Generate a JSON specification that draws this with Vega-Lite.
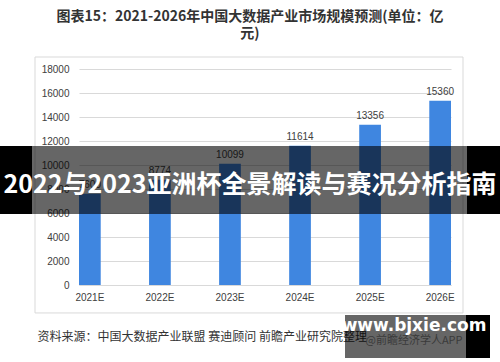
{
  "$schema": "https://vega.github.io/schema/vega-lite/v6.json",
  "width": 372,
  "height": 216,
  "autosize": "none",
  "padding": {"left": 79, "top": 69, "right": 49, "bottom": 77},
  "background": "white",
  "config": {
    "view": {"stroke": null},
    "font": "Noto Sans CJK SC",
    "axisY": {
      "title": null,
      "tickCount": 9,
      "format": "d",
      "labelOverlap": false,
      "labelFont": "Liberation Sans",
      "labelFontSize": 10,
      "labelColor": "#404040",
      "labelPadding": 10,
      "ticks": false,
      "domain": false,
      "gridColor": "#d9d9d9",
      "gridWidth": 1
    },
    "axisX": {
      "titleFont": "Noto Sans CJK SC",
      "titleFontSize": 12,
      "titleFontWeight": "normal",
      "titleColor": "#333333",
      "titleAnchor": "start",
      "titleAlign": "left",
      "titleX": -42,
      "titleY": 46,
      "labelAngle": 0,
      "labelFont": "Liberation Sans",
      "labelFontSize": 10,
      "labelColor": "#404040",
      "labelPadding": 7,
      "ticks": false,
      "domainColor": "#d9d9d9"
    }
  },
  "title": {
    "text": ["图表15：2021-2026年中国大数据产业市场规模预测(单位：亿", "元)"],
    "fontSize": 14,
    "fontWeight": "bold",
    "color": "#333333",
    "font": "Noto Sans CJK SC",
    "lineHeight": 17,
    "offset": 16,
    "dx": -15
  },
  "data": {
    "values": [
      {"year": "2021E", "value": 7600},
      {"year": "2022E", "value": 8774},
      {"year": "2023E", "value": 10099},
      {"year": "2024E", "value": 11614},
      {"year": "2025E", "value": 13356},
      {"year": "2026E", "value": 15360}
    ]
  },
  "layer": [
    {
      "mark": {"type": "bar", "color": "#3f86e0"},
      "encoding": {
        "x": {
          "field": "year",
          "type": "nominal",
          "sort": null,
          "title": "资料来源：中国大数据产业联盟 赛迪顾问 前瞻产业研究院整理",
          "scale": {"paddingInner": 0.69, "paddingOuter": 0}
        },
        "y": {
          "field": "value",
          "type": "quantitative",
          "title": null,
          "scale": {"domain": [0, 18000], "nice": false}
        }
      }
    },
    {
      "mark": {"type": "text", "dy": -9, "font": "Liberation Sans", "fontSize": 10, "color": "#404040"},
      "encoding": {
        "x": {"field": "year", "type": "nominal", "sort": null},
        "y": {"field": "value", "type": "quantitative"},
        "text": {"field": "value", "type": "quantitative"}
      }
    },
    {
      "data": {"values": [{}]},
      "mark": {"type": "rect", "fill": null, "stroke": "#d9d9d9", "strokeWidth": 1, "clip": false},
      "encoding": {
        "x": {"value": -44},
        "x2": {"value": 384},
        "y": {"datum": 19000},
        "y2": {"datum": -2330}
      }
    },
    {
      "data": {"values": [{}]},
      "mark": {"type": "rect", "color": "#000000", "opacity": 0.6, "clip": false},
      "encoding": {
        "x": {"value": -47},
        "x2": {"value": 388},
        "y": {"datum": 11583},
        "y2": {"datum": 5917}
      }
    },
    {
      "data": {"values": [{}]},
      "mark": {"type": "rect", "color": "#000000", "clip": false},
      "encoding": {
        "x": {"value": -79},
        "x2": {"value": -47},
        "y": {"datum": 11583},
        "y2": {"datum": 5917}
      }
    },
    {
      "data": {"values": [{}]},
      "mark": {"type": "rect", "color": "#000000", "clip": false},
      "encoding": {
        "x": {"value": 388},
        "x2": {"value": 421},
        "y": {"datum": 11583},
        "y2": {"datum": 5917}
      }
    },
    {
      "data": {"values": [{"t": "2022与2023亚洲杯全景解读与赛况分析指南"}]},
      "mark": {"type": "text", "font": "Noto Sans CJK SC", "fontWeight": "bold", "fontSize": 25, "color": "white", "align": "center", "baseline": "middle"},
      "encoding": {
        "x": {"value": 171},
        "y": {"datum": 8300},
        "text": {"field": "t"}
      }
    },
    {
      "data": {"values": [{}]},
      "mark": {"type": "rect", "color": "#000000", "opacity": 0.6, "clip": false},
      "encoding": {
        "x": {"value": 266},
        "x2": {"value": 387},
        "y": {"datum": -2500},
        "y2": {"datum": -6080}
      }
    },
    {
      "data": {"values": [{}]},
      "mark": {"type": "rect", "color": "#000000", "clip": false},
      "encoding": {
        "x": {"value": 387},
        "x2": {"value": 411},
        "y": {"datum": -2500},
        "y2": {"datum": -6080}
      }
    },
    {
      "data": {"values": [{"t": "www.bjxie.com"}]},
      "mark": {"type": "text", "font": "DejaVu Sans", "fontWeight": "bold", "fontSize": 17, "color": "white", "align": "center", "baseline": "middle"},
      "encoding": {
        "x": {"value": 335},
        "y": {"datum": -3450},
        "text": {"field": "t"}
      }
    },
    {
      "data": {"values": [{"t": "@前瞻经济学人APP"}]},
      "mark": {"type": "text", "font": "Noto Sans CJK SC", "fontSize": 11, "color": "#3a3a3a", "align": "center", "baseline": "middle"},
      "encoding": {
        "x": {"value": 335},
        "y": {"datum": -4700},
        "text": {"field": "t"}
      }
    }
  ]
}
